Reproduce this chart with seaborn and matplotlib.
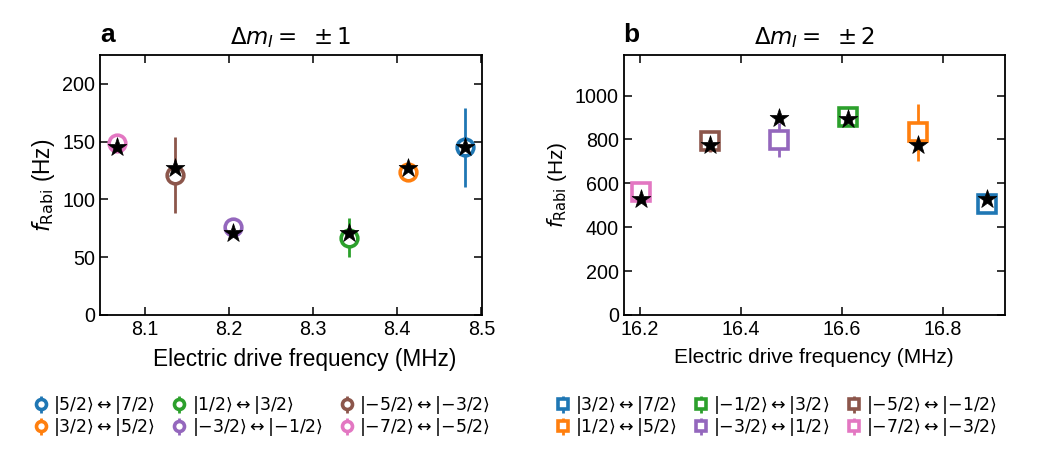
import numpy as np
import pandas as pd
import matplotlib
matplotlib.use("Agg")
from matplotlib import pyplot as plt
import seaborn as sns

# Panel a: delta m = +-1 transitions
labels_a = [r'$|5/2\rangle \leftrightarrow |7/2\rangle$',
            r'$|3/2\rangle \leftrightarrow |5/2\rangle$',
            r'$|1/2\rangle \leftrightarrow |3/2\rangle$',
            r'$|{-3/2}\rangle \leftrightarrow |{-1/2}\rangle$',
            r'$|{-5/2}\rangle \leftrightarrow |{-3/2}\rangle$',
            r'$|{-7/2}\rangle \leftrightarrow |{-5/2}\rangle$']
freq_a = [8.481, 8.413, 8.343, 8.205, 8.136, 8.067]
rabi_a = [145, 124, 67, 76, 121, 149]
err_a = [34, 5, 17, 5, 33, 5]
theory_a = [145, 127, 71, 71, 127, 145]
colors_a = [0, 1, 2, 4, 5, 6]

# Panel b: delta m = +-2 transitions
labels_b = [r'$|3/2\rangle \leftrightarrow |7/2\rangle$',
            r'$|1/2\rangle \leftrightarrow |5/2\rangle$',
            r'$|{-1/2}\rangle \leftrightarrow |3/2\rangle$',
            r'$|{-3/2}\rangle \leftrightarrow |1/2\rangle$',
            r'$|{-5/2}\rangle \leftrightarrow |{-1/2}\rangle$',
            r'$|{-7/2}\rangle \leftrightarrow |{-3/2}\rangle$']
freq_b = [16.888, 16.750, 16.612, 16.476, 16.339, 16.203]
rabi_b = [505, 832, 902, 798, 791, 560]
err_b = [30, 130, 20, 78, 48, 48]
theory_b = [529, 776, 894, 897, 773, 529]
colors_b = [0, 1, 2, 4, 5, 6]

sns.set_style("ticks")
plt.rcParams['font.family'] = ['Liberation Sans', 'DejaVu Sans']
plt.rcParams['mathtext.fontset'] = 'dejavusans'
for key in ['text.color', 'axes.labelcolor', 'xtick.color', 'ytick.color', 'axes.edgecolor']:
    plt.rcParams[key] = 'black'
pal = sns.color_palette("tab10")

fig = plt.figure(figsize=(10.5, 4.5), dpi=100)
ax_a = fig.add_axes([0.0952, 0.30, 0.364, 0.578])
ax_b = fig.add_axes([0.594, 0.30, 0.363, 0.578])

# (axes, labels, x, y, err, theory, colours, marker, size, letter, title, legend x, label font, tick font, xlabel x)
panels = [
    (ax_a, labels_a, freq_a, rabi_a, err_a, theory_a, colors_a, 'o', 12, 'a',
     r'$\Delta m_I =\ \pm 1$', 0.424, 16.3, 14.2, 0.535),
    (ax_b, labels_b, freq_b, rabi_b, err_b, theory_b, colors_b, 's', 13, 'b',
     r'$\Delta m_I =\ \pm 2$', 0.40, 15.0, 14.2, 0.5),
]

for ax, labels, freq, rabi, err, theory, cols, mk, ms, letter, title, lx, lfs, tfs, xlx in panels:
    for lab, f, r, e, c in zip(labels, freq, rabi, err, cols):
        ax.errorbar(f, r, yerr=e, fmt=mk, ms=ms, mfc='white', mec=pal[c],
                    mew=2.6, ecolor=pal[c], elinewidth=2.0, capsize=0, label=lab)
    df = pd.DataFrame({'freq': freq, 'theory': theory})
    sns.scatterplot(data=df, x='freq', y='theory', marker='*', s=200,
                    color='black', edgecolor='black', linewidth=0.5, ax=ax, zorder=5)
    ax.tick_params(direction='in', top=True, right=True, labelsize=tfs, length=6, width=1.1)
    for sp in ax.spines.values():
        sp.set_linewidth(1.3)
    ax.set_xlabel('Electric drive frequency (MHz)', fontsize=lfs, labelpad=3)
    ax.set_ylabel(r'$f_{\rm Rabi}$ (Hz)', fontsize=lfs, labelpad=4)
    ax.xaxis.set_label_coords(xlx, -0.125)
    ax.set_title(title, fontsize=16.5, pad=8)
    ax.text(0.0, 1.03, letter, transform=ax.transAxes, fontsize=19,
            fontweight='bold', ha='left', va='bottom')
    handles, labs = ax.get_legend_handles_labels()
    ax.legend(handles, labs, loc='upper center', bbox_to_anchor=(lx, -0.245),
              ncol=3, frameon=False, fontsize=12.5, markerscale=0.6,
              handlelength=0.8, handletextpad=0.3, columnspacing=1.0,
              labelspacing=0.0)

ax_a.set_xlim(8.0465, 8.501)
ax_a.set_ylim(0, 225)
ax_a.set_xticks([8.1, 8.2, 8.3, 8.4, 8.5])
ax_a.set_yticks([0, 50, 100, 150, 200])

ax_b.set_xlim(16.168, 16.923)
ax_b.set_ylim(0, 1185)
ax_b.set_xticks([16.2, 16.4, 16.6, 16.8])
ax_b.set_yticks([0, 200, 400, 600, 800, 1000])

fig.savefig('out.png', dpi=100)
